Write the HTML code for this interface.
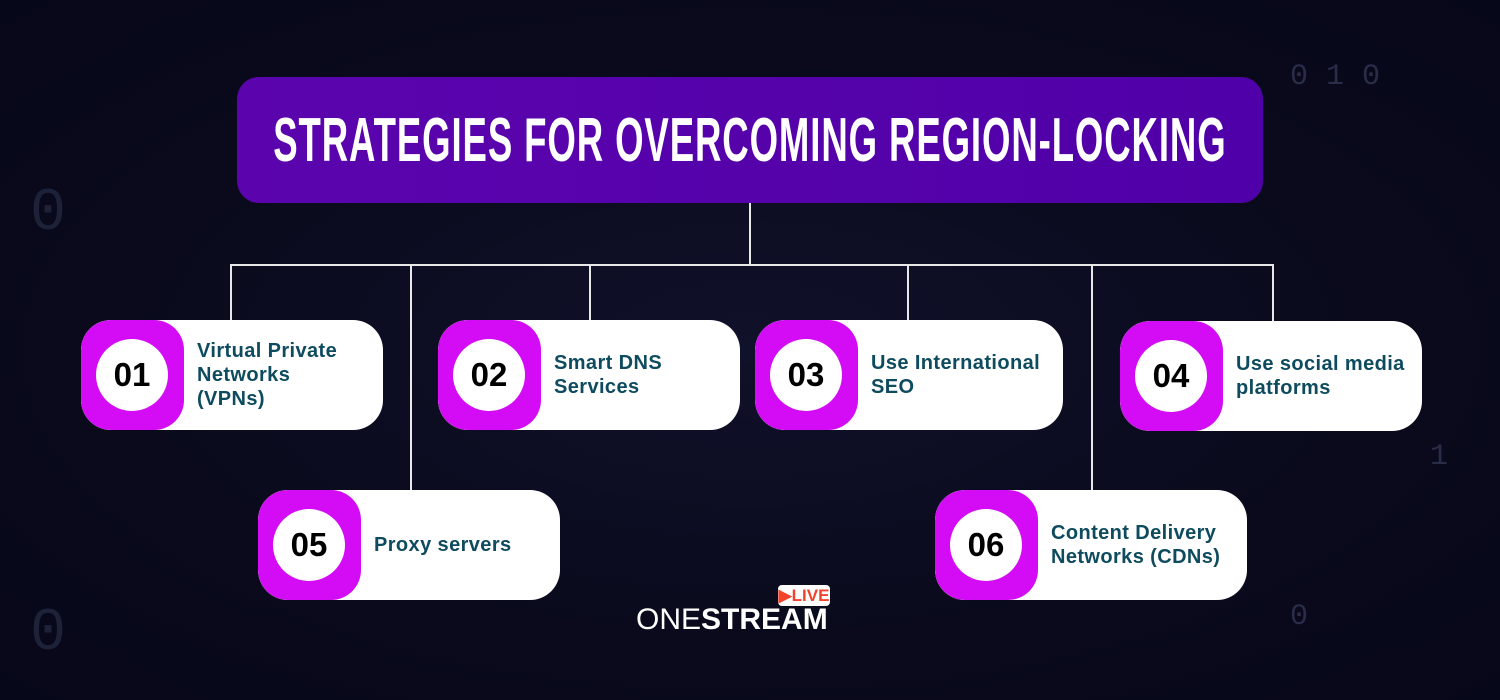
<!DOCTYPE html>
<html><head><meta charset="utf-8"><style>
*{margin:0;padding:0;box-sizing:border-box}
body{width:1500px;height:700px;overflow:hidden;background:radial-gradient(ellipse at 50% 50%,#10112a 0%,#0a0a1c 60%,#07071a 100%);font-family:"Liberation Sans",sans-serif;position:relative}
.title{position:absolute;left:237px;top:77px;width:1026px;height:126px;border-radius:22px;background:linear-gradient(90deg,#5b04ae,#5000a8);display:flex;align-items:center;justify-content:center}
.title span{color:#fff;font-weight:bold;font-size:62px;letter-spacing:1.5px;transform:scaleX(0.59);white-space:nowrap;font-family:"Liberation Sans Narrow","Liberation Sans",sans-serif}
.card{position:absolute;height:110px;background:#fff;border-radius:30px;overflow:hidden}
.sq{position:absolute;left:0;top:0;width:103px;height:110px;background:#d40bf5;border-radius:30px}
.c{position:absolute;left:15px;top:19px;width:72px;height:72px;border-radius:50%;background:#fff;display:flex;align-items:center;justify-content:center;font-weight:bold;font-size:33px;color:#000}
.t{position:absolute;left:116px;top:0;height:110px;display:flex;align-items:center;color:#0e4b5f;font-weight:bold;font-size:20px;letter-spacing:0.4px;line-height:24px}
.ln{position:absolute;background:#e8e8e8}
.bg{position:absolute;color:#2a2d48;font-size:30px;font-family:"Liberation Mono",monospace}
</style></head><body>
<div class="bg" style="left:1290px;top:60px">0 1 0</div>
<div class="bg" style="left:1430px;top:440px">1</div>
<div class="bg" style="left:1290px;top:600px">0</div>
<div class="bg" style="left:30px;top:180px;font-size:60px;color:#1e2238">0</div>
<div class="bg" style="left:30px;top:600px;font-size:60px;color:#1e2238">0</div>
<div class="title"><span>STRATEGIES FOR OVERCOMING REGION-LOCKING</span></div>
<div class="ln" style="left:749px;top:203px;width:2px;height:63px"></div>
<div class="ln" style="left:230px;top:264px;width:1044px;height:2px"></div>
<div class="ln" style="left:230px;top:264px;width:2px;height:57px"></div>
<div class="ln" style="left:410px;top:264px;width:2px;height:227px"></div>
<div class="ln" style="left:589px;top:264px;width:2px;height:57px"></div>
<div class="ln" style="left:907px;top:264px;width:2px;height:57px"></div>
<div class="ln" style="left:1091px;top:264px;width:2px;height:227px"></div>
<div class="ln" style="left:1272px;top:264px;width:2px;height:58px"></div>
<div class="card" style="left:81px;top:320px;width:302px"><div class="sq"></div><div class="c">01</div><div class="t">Virtual Private<br>Networks<br>(VPNs)</div></div>
<div class="card" style="left:438px;top:320px;width:302px"><div class="sq"></div><div class="c">02</div><div class="t">Smart DNS<br>Services</div></div>
<div class="card" style="left:755px;top:320px;width:308px"><div class="sq"></div><div class="c">03</div><div class="t">Use International<br>SEO</div></div>
<div class="card" style="left:1120px;top:321px;width:302px"><div class="sq"></div><div class="c">04</div><div class="t">Use social media<br>platforms</div></div>
<div class="card" style="left:258px;top:490px;width:302px"><div class="sq"></div><div class="c">05</div><div class="t">Proxy servers</div></div>
<div class="card" style="left:935px;top:490px;width:312px"><div class="sq"></div><div class="c">06</div><div class="t">Content Delivery<br>Networks (CDNs)</div></div>
<div style="position:absolute;left:778px;top:585px;width:52px;height:21px;background:#fff;border-radius:4px;color:#f2432c;font-weight:bold;font-size:17px;line-height:21px;text-align:center">▶LIVE</div>
<div style="position:absolute;left:636px;top:603px;color:#fff;font-size:30px;line-height:34px;letter-spacing:0px"><span style="font-weight:300">ONE</span><b>STREAM</b></div>
</body></html>
